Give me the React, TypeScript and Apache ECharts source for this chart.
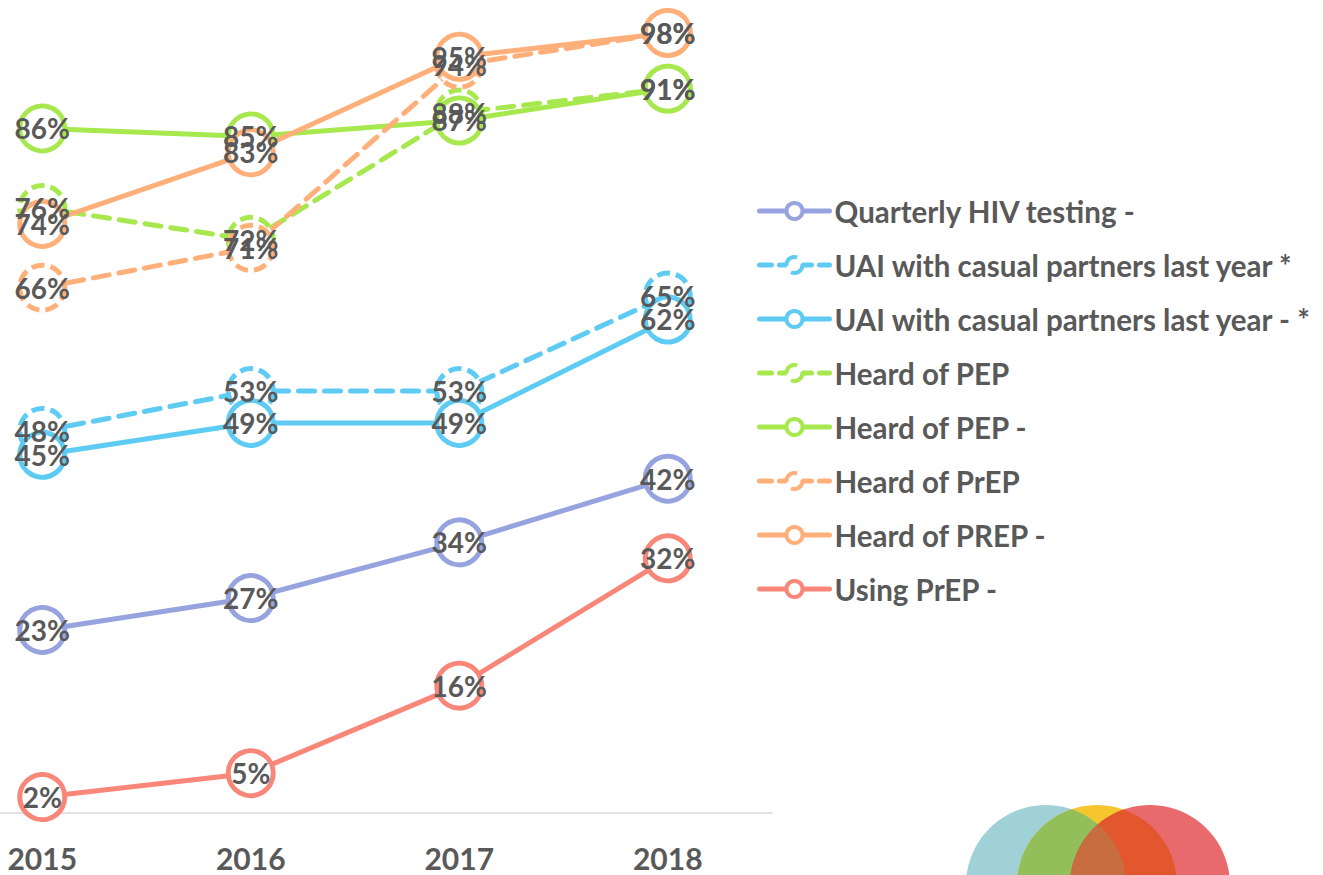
import React, { useEffect, useRef } from "react";
import * as echarts from "echarts";

const years = ["2015", "2016", "2017", "2018"];
const quarterlyHiv = [23, 27, 34, 42];
const uaiDashed = [48, 53, 53, 65];
const uaiSolid = [45, 49, 49, 62];
const pepDashed = [76, 72, 88, 91];
const pepSolid = [86, 85, 87, 91];
const prepDashed = [66, 71, 94, 98];
const prepSolid = [74, 83, 95, 98];
const usingPrep = [2, 5, 16, 32];

const seriesDefs = [
  { name: "Quarterly HIV testing -", data: quarterlyHiv, color: "#96a3df", dashed: false },
  { name: "UAI with casual partners last year *", data: uaiDashed, color: "#5ecbf3", dashed: true },
  { name: "UAI with casual partners last year - *", data: uaiSolid, color: "#5ecbf3", dashed: false },
  { name: "Heard of PEP", data: pepDashed, color: "#a6e84e", dashed: true },
  { name: "Heard of PEP -", data: pepSolid, color: "#a6e84e", dashed: false },
  { name: "Heard of PrEP", data: prepDashed, color: "#ffb07a", dashed: true },
  { name: "Heard of PREP -", data: prepSolid, color: "#ffb07a", dashed: false },
  { name: "Using PrEP -", data: usingPrep, color: "#f8877a", dashed: false },
];

const FONT = "Lato, 'Open Sans', sans-serif";
const TEXT = "#595959";

// the chart canvas is shifted left so the first category band starts off-page
const SHIFT = 62;

function lensPath(x1: number, x2: number, cy: number, r: number) {
  const d = x2 - x1;
  const h = Math.sqrt(r * r - (d / 2) * (d / 2));
  const mx = (x1 + x2) / 2;
  return `M ${mx} ${cy - h} A ${r} ${r} 0 0 1 ${mx} ${cy + h} A ${r} ${r} 0 0 1 ${mx} ${cy - h} Z`;
}

const R = 80;
const CY = 885;
const TX = 1046 + SHIFT, YX = 1097 + SHIFT, RX = 1150 + SHIFT;

let registered = false;
function registerShapes() {
  if (registered) return;
  registered = true;
  echarts.graphic.registerShape("lensTY", echarts.graphic.extendPath(lensPath(TX, YX, CY, R), {}));
  echarts.graphic.registerShape("lensYR", echarts.graphic.extendPath(lensPath(YX, RX, CY, R), {}));
  echarts.graphic.registerShape("lensTR", echarts.graphic.extendPath(lensPath(TX, RX, CY, R), {}));
}

export default function App() {
  const ref = useRef<HTMLDivElement>(null);
  useEffect(() => {
    if (!ref.current) return;
    registerShapes();
    const chart = echarts.init(ref.current, undefined, { renderer: "svg" });
    chart.setOption({
      animation: false,
      backgroundColor: "#ffffff",
      grid: { left: 0, right: 551, top: 17, bottom: 62, containLabel: false },
      xAxis: {
        type: "category",
        data: years,
        boundaryGap: true,
        axisLine: { show: true, lineStyle: { color: "#d9d9d9", width: 1.5 } },
        axisTick: { show: false },
        axisLabel: { color: TEXT, fontSize: 30, fontWeight: "bold", fontFamily: FONT, margin: 30 },
      },
      yAxis: {
        type: "value",
        min: 0,
        max: 100,
        show: false,
        splitLine: { show: false },
      },
      legend: {
        orient: "vertical",
        left: 752 + SHIFT,
        top: 191,
        itemWidth: 70,
        itemHeight: 20,
        itemGap: 24,
        textStyle: { color: TEXT, fontSize: 29.5, fontWeight: "bold", fontFamily: FONT, lineHeight: 30 },
        lineStyle: { width: 5 },
        itemStyle: { borderWidth: 4 },
        data: seriesDefs.map((s) => ({
          name: s.name,
          itemStyle: s.dashed
            ? { borderType: [16, 8], borderWidth: 4, color: "#fff", borderColor: s.color }
            : { borderWidth: 4, color: "#fff", borderColor: s.color },
          lineStyle: s.dashed ? { type: [12, 8], width: 5, color: s.color } : { type: "solid", width: 5, color: s.color },
        })),
      },
      series: seriesDefs.map((s) => ({
        name: s.name,
        type: "line",
        data: s.data,
        symbol: "circle",
        symbolSize: 45,
        showAllSymbol: true,
        lineStyle: { color: s.color, width: 5, type: s.dashed ? [16, 10] : "solid", cap: "round" },
        itemStyle: {
          color: "#ffffff",
          borderColor: s.color,
          borderWidth: 5,
          borderType: s.dashed ? [13, 6] : "solid",
        },
        label: {
          show: true,
          position: "inside",
          formatter: "{c}%",
          color: TEXT,
          fontSize: 28,
          fontWeight: "bold",
          fontFamily: FONT,
        },
        emphasis: { disabled: true },
      })),
      graphic: [
        { type: "circle", shape: { cx: TX, cy: CY, r: R }, style: { fill: "#9fd1d6" }, silent: true },
        { type: "circle", shape: { cx: YX, cy: CY, r: R }, style: { fill: "#f6c62f" }, silent: true },
        { type: "circle", shape: { cx: RX, cy: CY, r: R }, style: { fill: "#e96a6d" }, silent: true },
        { type: "lensTY", x: 0, y: 0, style: { fill: "#93bf5b" }, silent: true },
        { type: "lensYR", x: 0, y: 0, style: { fill: "#e3572f" }, silent: true },
        { type: "lensTR", x: 0, y: 0, style: { fill: "#c76d3f" }, silent: true },
      ],
    });
    return () => chart.dispose();
  }, []);
  return (
    <div style={{ position: "fixed", left: 0, top: 0, width: 1323, height: 875, overflow: "hidden", background: "#fff" }}>
      <div
        ref={ref}
        style={{ position: "absolute", left: -SHIFT, top: 0, width: 1323 + SHIFT, height: 875 }}
      />
    </div>
  );
}
